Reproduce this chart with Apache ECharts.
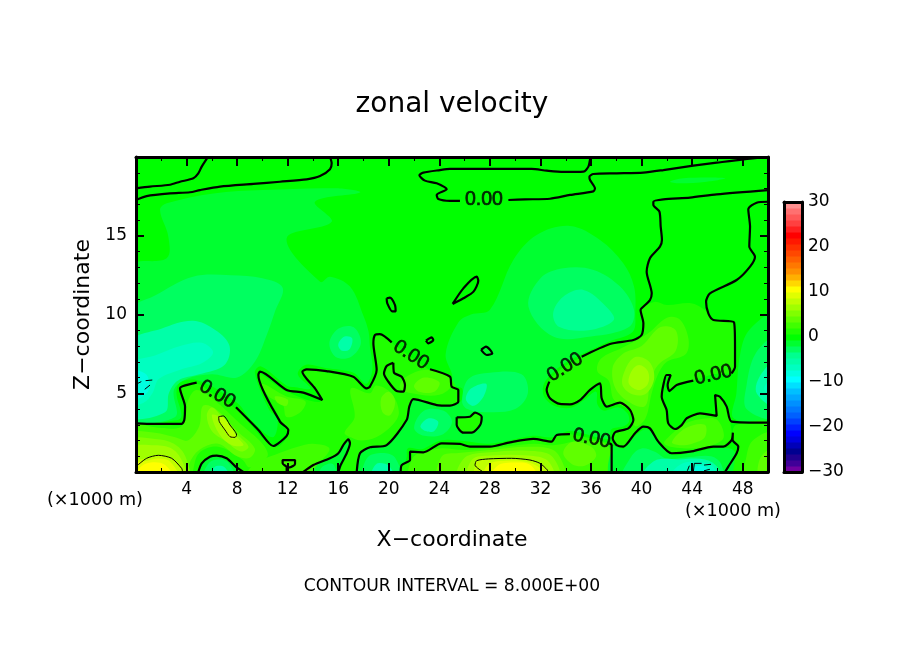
<!DOCTYPE html>
<html>
<head>
<meta charset="utf-8">
<style>html,body{margin:0;padding:0;background:#fff}#c{width:904px;height:654px}</style>
<script src="https://cdn.jsdelivr.net/npm/echarts@6/dist/echarts.min.js"></script>
</head>
<body>
<div id="c"></div>
<script>
// colour scale: 45 bands from -30 to +30 (bottom to top)
const barColors = ['#7000a0','#400098','#200090','#000090','#0000b8','#0000e0','#0000ff','#0020ff','#0040ff','#0060ff','#0078ff','#0090ff','#00a8ff','#00c0ff','#00e0ff','#00ffff','#00ffe0','#00ffc0','#00ffa8','#00ff90','#00ff60','#00ff30','#00ff00','#20ff00','#40ff00','#60ff00','#80ff00','#a0ff00','#c0ff00','#e0ff00','#ffff00','#ffd800','#ffb000','#ff9000','#ff7800','#ff6000','#ff4800','#ff3000','#ff1800','#ff0000','#ff2020','#ff4040','#ff5858','#ff7070','#ff9090'];
const barMin = -30, barMax = 30;

// filled velocity regions (m/s level, outline in km)
const fillLevels = [0, -1.5, -1.5, -1.5, -1.5, -1.5, -1.5,
  1.5, 1.5, 1.5, 1.5, 1.5,
  2.7, 4, 5.3, 5.3, 6.7, 6.7, 8, 8, 9.3, 10.7,
  2.7, 2.7, 4, 2.7, 4, 2.7, 4,
  2.7, 4, 4, 5.3, 6.7, 8, 9.3, 10.7,
  2.7, 4, 5.3, 6.7, 2.7, 4, 2.7, 4,
  -3, -5, -7, -8.5,
  -3, -5, -3, -5, -3, -5, -3.5, -3, -4.5,
  -3, -5, -7, -8.5, -1.5, -3, -5, -7, -8.5, -3, -5, -3, -5, -3];
const fillShapes = [
  [[-1,-1],[51,-1],[51,21],[-1,21]],
  [[-.5,13],[2.43,13.57],[2.56,14.94],[1.9,16.63],[2.43,17.06],[6.12,17.69],[10.07,17.9],[15.88,18.01],[17.72,17.74],[14.16,17.16],[15.48,15.89],[11.92,14.84],[14.56,12.08],[15.35,12.4],[16.93,11.77],[18,9.9],[18.4,8.9],[18.5,8],[18.7,6.5],[18.2,5.6],[17.2,6.3],[15,6.6],[13.4,6.8],[12.8,6.2],[13.8,5.3],[12.5,5.4],[11.9,5.5],[9.9,6.7],[9.4,6.3],[10.5,4],[11.2,3.3],[10.8,2.2],[9,3.4],[8,4.4],[5,5.8],[3.5,5.7],[3.2,5],[3.6,3.6],[3.3,3.3],[-.5,3.3]],
  [[28,10.3],[29.85,13.46],[31.7,15.05],[34.33,15.62],[36.71,14.73],[38.55,13.25],[39.4,11.77],[39.5,10.1],[39.3,8.9],[37.5,8.3],[35.3,7.5],[33.7,6.8],[32.4,5.8],[32.2,5],[32.7,4.4],[33.5,4.1],[34.5,4.1],[35.5,4.6],[36.4,5.1],[36.5,4.3],[37,3.9],[38.2,4.1],[38.9,3.7],[39,3.2],[38.6,2.9],[37.6,2.7],[37.4,2.1],[34.3,2.6],[33,2.2],[31.4,2.3],[28,1.8],[25.6,2],[24.1,2],[22.6,1.45],[21.5,1.5],[21.4,.9],[20.7,-.5],[17.5,-.5],[17.4,1.1],[18.5,1.7],[19.7,1.9],[21.2,3.3],[21.4,4.2],[21.9,4.9],[23.8,4.5],[24.8,4.5],[25.7,4.5],[25.8,5.3],[25.1,5.5],[25,6.2],[24.5,7.5],[25.5,9.5],[26.5,10]],
  [[50.5,10],[48.5,9],[47.8,7.5],[47.5,5],[47.3,3.4],[50.5,3.3]],
  [[42.25,18.43],[43.3,18.65],[46.6,18.65],[45.15,18.43],[43,18.33]],
  [[4.9,-.5],[5.2,.5],[5.85,.95],[6.38,1],[7.17,.85],[7.9,.3],[8.5,-.5]],
  [[13.2,-.5],[14,.4],[15.3,.85],[16,1.15],[16.4,1.65],[16.8,2],[16.9,1.8],[16.6,1.15],[16.2,.4],[16,-.5]],
  [[-.5,3.1],[3.7,3],[4,4],[3.6,5.3],[4.8,5.6],[6,5],[7.9,4],[10.9,1.6],[12,2.3],[11.5,3.2],[9.7,6.2],[11.9,5.1],[14.6,4.5],[13.2,6.4],[15,6.3],[17.2,6],[18.2,5.2],[19,6.5],[18.8,8.2],[19.2,8.7],[20.2,8.2],[23.2,6.5],[24.8,6],[25.5,5],[25.5,4.4],[23.8,4.2],[22,4.6],[21.6,4.1],[21.4,3.3],[19.8,1.7],[18.5,1.55],[17.7,1.2],[17.4,-.5],[16,-.5],[16.7,1.2],[16.8,2],[16,1.2],[14,.4],[13.2,-.5],[8.5,-.5],[7.9,.34],[6.4,1],[5.2,.55],[4.9,-.5],[-.5,-.5]],
  [[20.9,-.5],[21,.44],[21.7,.76],[21.7,1.29],[22.7,1.25],[24.2,1.82],[25.6,1.78],[26.4,1.6],[28,1.6],[29.6,1.88],[31.4,2.1],[32.9,1.93],[33.3,2.35],[34.3,2.41],[37.45,1.82],[37.6,1.7],[37.6,-.5]],
  [[40,10.3],[40.1,9.4],[40,8.7],[39.3,8.4],[37.5,8.1],[35.3,7.3],[33.9,6.7],[32.7,5.8],[32.5,5.2],[32.75,4.7],[33.5,4.3],[34.3,4.3],[35.1,4.6],[35.9,5.2],[36.7,5.6],[36.8,4.7],[37.2,4.15],[38.3,4.4],[39.1,3.9],[39.35,3.3],[38.95,2.77],[37.9,2.5],[37.7,2.1],[38,1.7],[38.6,1.6],[39.5,2.5],[40.1,2.9],[40.7,2.8],[41.3,1.9],[42.4,1.2],[43.8,1.3],[45.7,1.6],[46.5,1.6],[47.1,2],[47,3.2],[46.7,4.15],[46.2,4.8],[45.8,4.9],[45.9,3.6],[44.6,3.7],[43.6,3.4],[43.2,3],[42.6,2.7],[42.1,3.1],[42,3.9],[41.6,4.8],[41.7,5.5],[42,6.2],[42.3,6.2],[42,5.5],[42.2,5.1],[42.8,5.5],[44.1,5.8],[45.7,6.2],[47.1,6.3],[47.4,6.7],[47.4,8],[47.3,9.5],[45.7,9.65],[45.3,10.1],[44,10.7],[42,10.6],[41,10.8]],
  [[46.7,-.5],[47.5,1.2],[47.65,1.6],[47.2,2.2],[47.5,3],[50.5,3],[50.5,-.5]],
  [[25.37,3.47],[26.42,3.51],[26.82,3.77],[27.35,3.51],[27.22,2.98],[26.56,2.5],[25.9,2.5],[25.37,2.98]],
  [[-.5,2.9],[2,2.8],[3.6,2.9],[4.1,4.5],[4.8,5.2],[6.3,4.5],[8.2,3.1],[10,1.8],[10.4,1],[9,.3],[8.4,.8],[6.5,1.6],[5,1.2],[4.5,0],[4.5,-.5],[-.5,-.5]],
  [[-.5,2.4],[1.5,2.5],[3.1,2.2],[4.1,2],[5,2.9],[5.3,4.2],[6.3,4],[8,2.6],[9.4,1.5],[9,.9],[8,1],[6.5,1.8],[5,1.4],[4.2,.5],[4,-.5],[-.5,-.5]],
  [[-.5,2],[1.5,2.1],[3,1.8],[3.9,1],[4.1,-.5],[-.5,-.5]],
  [[5.6,3.6],[6,4.1],[6.7,3.6],[8,2.4],[8.9,1.6],[8.3,1.3],[7,2],[6,2.6]],
  [[-.5,1.5],[1.5,1.7],[2.9,1.45],[3.7,.6],[3.9,-.5],[-.5,-.5]],
  [[6,3.6],[6.6,3.5],[8,2.2],[8.5,1.7],[7.6,1.7],[6.6,2.4]],
  [[-.5,.6],[.84,.87],[1.77,1.06],[2.82,.87],[3.6,.23],[3.7,-.5],[-.5,-.5]],
  [[6.5,3.5],[6.9,3.5],[7.9,2.3],[7.6,2.1],[7.1,2.5]],
  [[-.5,.45],[.9,.72],[1.8,.85],[2.7,.65],[3.4,-.5],[-.5,-.5]],
  [[0,-.5],[.4,.35],[1.3,.62],[2.3,.45],[3,-.5]],
  [[8.7,-.5],[9.3,.5],[11,1.1],[12.8,1.6],[14,1.8],[15.3,1.5],[14.5,.6],[13,-.5]],
  [[10,5.6],[11.9,4.8],[13.4,4.5],[13,3.8],[11.9,3.5],[11.6,4.3],[10.5,4.8]],
  [[11,4.8],[12,4.6],[11.9,4.2],[11.2,4.4]],
  [[16.5,2.5],[17.3,3.5],[17,5.3],[18.5,5],[19,5.5],[20.2,5],[20.8,3.8],[20.3,3],[19,2.2],[17.8,2],[17,2.2]],
  [[19.4,4.7],[20,5.1],[20.5,4.5],[20.1,3.6],[19.5,3.8]],
  [[20.9,5.3],[21.3,6],[23,6.5],[24.8,6],[24.9,5.4],[24,4.9],[22.5,4.9]],
  [[22,5.5],[22.8,6],[24,5.7],[23.6,5.1],[22.4,5.1]],
  [[21.8,-.5],[22,1],[24,1.5],[26,1.4],[29,1.6],[31.5,1.8],[33,1.7],[35.5,2],[37.4,1.6],[37.4,-.5]],
  [[24,-.5],[24.2,1],[25.5,1.2],[28,1.4],[31,1.6],[33,1.4],[33.8,.5],[34,-.5]],
  [[33.8,1.2],[34.5,1.9],[36,1.6],[36.4,1],[35.5,.4],[34.5,.5]],
  [[25.5,-.5],[26,.9],[28,1.25],[31,1.35],[32.9,1],[33.4,-.5]],
  [[26.3,-.5],[26.6,.8],[28,1.05],[31,1.05],[32.6,.7],[33,-.5]],
  [[26.82,-.5],[26.82,.44],[26.95,.72],[27.88,.83],[29.72,.87],[31.17,.76],[31.96,.55],[32.54,.13],[32.57,-.5]],
  [[27.5,-.5],[27.9,.5],[29.5,.72],[31,.62],[32,.2],[32.2,-.5]],
  [[28,-.5],[28.6,.4],[30,.6],[31.2,.45],[31.8,-.5]],
  [[36.8,7.2],[38.5,7.9],[40.5,8.8],[42,9.8],[43,9.7],[43.7,8.5],[43.5,7.5],[42,7],[41.3,6.2],[40.8,5],[40.3,3.4],[39.5,2.9],[39,3.9],[37.8,4.6],[37.4,5.8],[36.5,6.4]],
  [[37.7,6.6],[38.5,7.5],[40,8],[41.5,9.2],[42.7,9],[42.7,7.7],[41.3,6.8],[40.7,5.8],[40.3,4.2],[39.3,4.3],[38,5.2]],
  [[38.5,5.5],[38.7,6.5],[39.5,7.3],[40.6,7],[41,6],[40.4,5],[39.4,4.9]],
  [[39,5.6],[39.2,6.4],[39.8,6.8],[40.5,6.4],[40.5,5.6],[39.8,5.2]],
  [[41.8,1.8],[42.5,2.5],[43.5,3.1],[45,3.4],[46,3.3],[46.5,2.2],[45.6,1.7],[43.5,1.5]],
  [[42.4,1.9],[43.5,2.8],[45,3],[45,2.2],[44,1.8],[43,1.7]],
  [[48.2,-.5],[48.3,1],[48.8,2],[50.5,2.5],[50.5,-.5]],
  [[49.3,-.5],[49.4,.9],[50.5,1.5],[50.5,-.5]],
  [[-.5,10.2],[1.5,11.2],[4.5,12.4],[7.5,12.5],[10,12.3],[11.6,11.7],[11,10.2],[10.3,8.6],[9.4,7],[8,6],[6,6.2],[4,5.9],[3,5.2],[3.1,3.5],[-.5,3.5]],
  [[-.5,8.2],[2,9.1],[4.5,9.6],[6.3,9],[7.4,8],[7,6.8],[5,6.2],[3.3,5.8],[2.6,5],[2.3,3.8],[-.5,3.6]],
  [[-.5,6.8],[1.5,7.4],[3.5,8],[5.2,8.2],[6.1,7.6],[5.2,6.9],[3.5,6.5],[1.8,5.9],[1.3,5],[.6,4.4],[-.5,4.3]],
  [[-.5,6.4],[.8,6.2],[1,5.2],[.3,4.7],[-.5,4.6]],
  [[25.8,4.5],[26.3,5.9],[28,6.3],[30.5,6.2],[31,5],[30,4],[27.6,3.8],[26.2,4]],
  [[26.1,4.6],[26.5,5.3],[27.7,5.6],[27.5,4.8],[26.7,4.2]],
  [[22,2.8],[22.8,3.9],[24.3,3.9],[25,3.2],[24.3,2.4],[22.8,2.3]],
  [[22.5,2.9],[23.1,3.4],[23.9,3.2],[23.6,2.6],[22.9,2.6]],
  [[15.3,8.2],[16,9.1],[17.2,9.2],[17.8,8.2],[17,7.3],[15.8,7.3]],
  [[16,8.1],[16.5,8.6],[17.1,8.5],[16.9,7.8],[16.3,7.7]],
  [[34.8,9.3],[35.6,10],[36.9,10.1],[37.3,9.7],[36.5,9],[35.3,8.9]],
  [[31.05,10.5],[32,12.3],[33.8,12.93],[36.2,12.83],[38.3,11.77],[39.4,10.29],[39,9.2],[36,8.6],[33,8.6]],
  [[33,10.07],[33.8,11.13],[35.4,11.56],[37.2,10.5],[37.8,9.65],[35.8,9],[33.5,9.2]],
  [[50.5,8.5],[49,7.5],[48.3,5.5],[48.3,4],[50.5,3.5]],
  [[50.5,7],[49.3,6],[49.1,5],[50.5,4.2]],
  [[50.5,6],[49.7,5.3],[50.5,4.7]],
  [[50.5,5.6],[50,5.3],[50.5,5]],
  [[37.7,-.5],[37.7,1.6],[38.6,1.5],[39.5,2.3],[40.2,2.7],[40.7,2.6],[41.4,1.8],[42.4,1.1],[43.8,1.2],[45.7,1.5],[47,1.5],[47.4,1.2],[46.7,-.5]],
  [[38.5,-.5],[39.2,1],[40,1.5],[41,1.3],[42,.85],[43.8,.95],[45.5,1],[46.3,.5],[46.3,-.5]],
  [[40,-.5],[41,.7],[43,.8],[45,.8],[46,.3],[46,-.5]],
  [[42.2,-.5],[43,.45],[44.5,.65],[45.7,.3],[45.8,-.5]],
  [[43.8,-.5],[44,.25],[45,.35],[45.5,-.5]],
  [[18,-.5],[18.3,.9],[19.5,1.2],[20.5,.9],[20.9,-.5]],
  [[18.6,-.5],[19,.5],[20,.4],[20.4,-.5]],
  [[5.3,-.5],[5.8,.6],[6.5,.8],[7.3,.6],[7.8,-.5]],
  [[5.9,-.5],[6.2,.3],[7,.3],[7.4,-.5]],
  [[14.5,-.5],[14.7,.3],[15.6,.5],[15.8,-.5]]
];

// zero contours, bold (km, km)
const contourBold = [
  [[0,18.01],[1.11,18.12],[2.69,18.24],[3.48,18.43],[4.54,18.65],[4.93,18.96],[5.2,19.39],[5.64,19.94],[5.7,20]],
  [[0,17.27],[.84,17.52],[2.69,17.69],[4.27,17.76],[5.06,17.9],[6.65,18.12],[9.28,18.29],[11.39,18.43],[13.5,18.58],[14.56,18.79],[15.35,19.22],[15.48,19.6],[15.35,20]],
  [[35.95,20],[35.79,19.39],[35.4,19.07],[33.81,19.05],[32.49,19.13],[31.3,19.24],[24.84,19.24],[24.05,19.17],[22.73,19.01],[22.42,18.84],[22.86,18.5],[23.79,18.33],[24.58,17.95],[23.79,17.59],[23.92,17.33],[24.84,17.21],[25.63,17.21]],
  [[29.46,17.27],[30.78,17.31],[32.75,17.35],[34.33,17.59],[36.18,17.82],[36.31,18.01],[35.92,18.54],[35.87,18.75],[36.18,18.92],[38.03,18.96],[40.14,19.01],[41.72,19.17],[44.09,19.45],[45.94,19.64],[48.05,19.85],[50,20]],
  [[50,17.9],[45.94,17.63],[43.83,17.42],[41.72,17.31],[40.93,17.16],[40.93,16.95],[41.41,16.53],[41.51,15.58],[41.61,14.73],[41.45,14.31],[40.66,13.57],[40.4,12.72],[40.8,11.34],[40.66,10.92],[40,10.39],[39.92,10.29],[40.14,9.44],[40,8.7],[39.35,8.38],[37.5,8.13],[35.26,7.32]],
  [[32.7,5.74],[32.49,5.21],[32.75,4.68],[33.54,4.32],[34.33,4.3],[35.13,4.57],[35.92,5.21],[36.71,5.63],[36.84,4.68],[37.24,4.15],[38.29,4.4],[39.08,3.94],[39.35,3.3],[38.95,2.77],[37.9,2.52],[37.71,2.14],[38.03,1.71],[38.56,1.61],[39.48,2.46],[40.14,2.88],[40.66,2.77],[41.32,1.93],[42.38,1.19],[43.83,1.29],[45.68,1.61],[46.47,1.61],[47.12,2.03],[47.22,2.5],[47.2,2.03],[47.65,1.61],[47.52,1.19],[46.86,.34],[46.6,0]],
  [[50,17.16],[49.1,17.1],[48.44,16.68],[48.58,15.58],[48.52,14.31],[48.97,13.67],[48.58,13.04],[47.52,12.19],[45.41,11.34],[45.1,10.81],[45.28,10.07],[45.68,9.65],[47.31,9.5],[47.39,7.96],[47.39,6.69],[47.12,6.26]],
  [[44.09,5.8],[42.77,5.52],[42.19,5.14],[42.06,5.52],[42.3,6.16],[41.97,6.16],[41.72,5.52],[41.59,4.78],[41.98,3.94],[42.11,3.09],[42.64,2.73],[43.17,2.98],[43.57,3.41],[44.62,3.72],[45.94,3.56],[45.81,4.89],[46.2,4.78],[46.73,4.15],[47.12,3.2],[50,3.13]],
  [[0,3.09],[1.37,3.05],[3.61,3.05],[3.82,3.3],[3.88,4.15],[3.48,5.31],[3.74,5.46],[4.8,5.67]],
  [[7.91,4.11],[9.68,2.67],[10.86,1.65],[11.26,1.82],[11.92,2.29],[12.05,2.67],[11.39,3.2],[9.68,6.16],[9.81,6.37],[11.92,5.21],[13.24,5.04],[14.74,4.57],[14.16,5.31],[13.16,6.37],[13.5,6.52],[15.08,6.41],[17.19,6.05],[18.25,5.31],[18.51,5.42],[19.04,6.48],[18.78,8.17],[18.91,8.7],[19.3,8.76],[20.23,8.23]],
  [[23.26,6.52],[24.84,6.05],[24.97,5.42],[25.5,5.21],[25.5,4.47],[24.84,4.21],[23.79,4.25],[21.94,4.63],[21.62,4.15],[21.41,3.3],[19.83,1.71],[18.51,1.57],[17.72,1.19],[17.46,0]],
  [[25.37,3.47],[26.42,3.51],[26.82,3.77],[27.35,3.51],[27.22,2.98],[26.56,2.5],[25.9,2.5],[25.37,2.98],[25.37,3.47]],
  [[20.94,0],[21.02,.44],[21.68,.76],[21.68,1.29],[22.73,1.25],[24.18,1.82],[25.63,1.78],[26.42,1.61],[28,1.61],[29.59,1.88],[31.43,2.1],[32.88,1.93],[33.28,2.35],[34.33,2.41]],
  [[37.45,1.82],[37.63,1.71],[37.63,0]],
  [[4.93,0],[5.2,.55],[5.85,.97],[6.38,1.04],[7.17,.87],[7.88,.34],[8.49,0]],
  [[11.92,0],[11.92,.3],[11.6,.55],[11.6,.76],[12.58,.76],[12.58,.51],[12.18,.3],[11.92,.3]],
  [[13.24,0],[14.03,.44],[15.35,.87],[16.01,1.19],[16.4,1.71],[16.8,2.07],[16.93,1.82],[16.67,1.19],[16.19,.44],[16.01,0]],
  [[19.83,11.03],[20.09,11.07],[20.49,10.6],[20.54,10.2],[20.28,10.2],[19.88,10.71],[19.83,11.03]],
  [[25.05,10.67],[25.9,11.66],[26.95,12.4],[27.08,12.15],[26.7,11.45],[25.9,11.03],[25.05,10.67]],
  [[22.94,8.34],[23.39,8.55],[23.52,8.38],[23.13,8.17],[22.94,8.34]],
  [[20.36,6.94],[20.41,6.31],[21.02,6.05],[21.28,5.52],[21.15,5.1],[20.62,5.14],[19.96,5.74],[19.62,6.26],[19.83,6.73],[20.36,6.94]],
  [[27.3,7.75],[27.69,7.96],[28.19,7.53],[27.74,7.43],[27.3,7.75]]
];

// +8 contours, thin
const contourThin = [
  [[6.54,3.51],[6.91,3.56],[7.44,2.98],[7.96,2.35],[7.83,2.2],[7.44,2.24],[7.04,2.67],[6.59,3.2],[6.54,3.51]],
  [[0,.34],[.84,.87],[1.77,1.06],[2.82,.87],[3.61,.23],[3.69,0]],
  [[27.48,0],[26.82,.44],[26.95,.72],[27.88,.83],[29.72,.87],[31.17,.76],[31.96,.55],[32.54,.13],[32.57,0]]
];

// -8 contours, broken pieces
const contourDashed = [
  [[.05,5.59],[.42,5.74]],
  [[.76,5.8],[1.29,5.84]],
  [[.69,5.25],[1.11,5.52]],
  [[43.62,.08],[43.78,.4]],
  [[44.09,0],[44.17,.55],[44.75,.55]],
  [[44.94,.44],[45.49,.49]],
  [[44.94,.08],[45.4,.17]]
];

// in-line contour labels: x km, z km, rotation degrees
const contourLabels = [[27.53,17.27,0],[6.43,4.93,-30],[21.76,7.43,-33],[33.94,6.65,32],[36.05,2.12,-12],[45.68,6.16,13]];
const contourLabelText = '0.00';

const xTicksStep = 4, zTicksStep = 5;
const FONT = 'DejaVu Sans';

const bandSize = (barMax - barMin) / barColors.length;
const colorOf = v => barColors[Math.max(0, Math.min(barColors.length - 1, Math.floor((v - barMin) / bandSize)))];

function lineSeries(paths, width, smooth) {
  return paths.map(p => ({
    type: 'line', xAxisIndex: 0, yAxisIndex: 0, data: p, showSymbol: false, symbol: 'none', silent: true, z: 4,
    clip: true, animation: false, smooth: smooth, lineStyle: { color: '#000', width: width }
  }));
}

const option = {
  animation: false,
  backgroundColor: '#fff',
  textStyle: { fontFamily: FONT, color: '#000' },
  title: { text: 'zonal velocity', left: 'center', top: 86, textStyle: { fontFamily: FONT, fontSize: 28, fontWeight: 'normal', color: '#000' } },
  grid: [
    { left: 136, top: 157, width: 632, height: 315, show: false },
    { left: 784, top: 202, width: 18, height: 270, show: false }
  ],
  xAxis: [
    { gridIndex: 0, type: 'value', min: 0, max: 50, interval: xTicksStep, position: 'bottom', z: 10,
      axisLine: { show: true, onZero: false, lineStyle: { color: '#000', width: 3 } },
      axisTick: { show: true, inside: true, length: 9, lineStyle: { color: '#000', width: 2 } },
      minorTick: { show: true, splitNumber: 2, length: 4, lineStyle: { color: '#000', width: 1 } },
      splitLine: { show: false }, minorSplitLine: { show: false },
      axisLabel: { margin: 9, fontSize: 17, color: '#000', fontFamily: FONT, formatter: v => (v > 0 && v < 50) ? String(v) : '' },
      name: 'X\u2212coordinate', nameLocation: 'middle', nameGap: 57, nameTextStyle: { fontFamily: FONT, fontSize: 22, color: '#000' } },
    { gridIndex: 0, type: 'value', min: 0, max: 50, interval: xTicksStep, position: 'top', z: 10,
      axisLine: { show: true, onZero: false, lineStyle: { color: '#000', width: 3 } },
      axisTick: { show: true, inside: true, length: 9, lineStyle: { color: '#000', width: 2 } },
      minorTick: { show: true, splitNumber: 2, length: 4, lineStyle: { color: '#000', width: 1 } },
      splitLine: { show: false }, axisLabel: { show: false } },
    { gridIndex: 1, type: 'value', min: 0, max: 1, position: 'bottom', z: 10, axisLine: { show: true, onZero: false, lineStyle: { color: '#000', width: 3 } }, axisTick: { show: false }, splitLine: { show: false }, axisLabel: { show: false } },
    { gridIndex: 1, type: 'value', min: 0, max: 1, position: 'top', z: 10, axisLine: { show: true, onZero: false, lineStyle: { color: '#000', width: 3 } }, axisTick: { show: false }, splitLine: { show: false }, axisLabel: { show: false } }
  ],
  yAxis: [
    { gridIndex: 0, type: 'value', min: 0, max: 20, interval: zTicksStep, position: 'left', z: 10,
      axisLine: { show: true, onZero: false, lineStyle: { color: '#000', width: 3 } },
      axisTick: { show: true, inside: true, length: 8, lineStyle: { color: '#000', width: 2 } },
      minorTick: { show: true, splitNumber: 5, length: 4, lineStyle: { color: '#000', width: 1 } },
      splitLine: { show: false },
      axisLabel: { margin: 9, fontSize: 17, color: '#000', fontFamily: FONT, formatter: v => (v > 0 && v < 20) ? String(v) : '' },
      name: 'Z\u2212coordinate', nameLocation: 'middle', nameGap: 42, nameTextStyle: { fontFamily: FONT, fontSize: 22, color: '#000' } },
    { gridIndex: 0, type: 'value', min: 0, max: 20, interval: zTicksStep, position: 'right', z: 10,
      axisLine: { show: true, onZero: false, lineStyle: { color: '#000', width: 3 } },
      axisTick: { show: true, inside: true, length: 8, lineStyle: { color: '#000', width: 2 } },
      minorTick: { show: true, splitNumber: 5, length: 4, lineStyle: { color: '#000', width: 1 } },
      splitLine: { show: false }, axisLabel: { show: false } },
    { gridIndex: 1, type: 'value', min: barMin, max: barMax, interval: 10, position: 'right', z: 10,
      axisLine: { show: true, onZero: false, lineStyle: { color: '#000', width: 3 } }, axisTick: { show: false }, splitLine: { show: false },
      axisLabel: { margin: 6, fontSize: 17, color: '#000', fontFamily: FONT, formatter: v => String(v).replace('-', '\u2212') } },
    { gridIndex: 1, type: 'value', min: barMin, max: barMax, position: 'left', z: 10,
      axisLine: { show: true, onZero: false, lineStyle: { color: '#000', width: 3 } }, axisTick: { show: false }, splitLine: { show: false }, axisLabel: { show: false } }
  ],
  graphic: [
    { type: 'text', x: 47, y: 491, z: 20, style: { text: '(\u00d71000 m)', font: '17.6px "DejaVu Sans"', fill: '#000' } },
    { type: 'text', x: 685, y: 502, z: 20, style: { text: '(\u00d71000 m)', font: '17.6px "DejaVu Sans"', fill: '#000' } },
    { type: 'text', x: 452, y: 587, z: 20, style: { text: 'CONTOUR INTERVAL = 8.000E+00', font: '17.2px "DejaVu Sans"', fill: '#000', align: 'center', verticalAlign: 'middle' } }
  ],
  series: [
    { type: 'custom', xAxisIndex: 0, yAxisIndex: 0, clip: true, silent: true, z: 1,
      data: fillLevels.map((lv, i) => [i, lv]), encode: { x: 0, y: 1 },
      renderItem: (params, api) => {
        const i = api.value(0);
        return { type: 'polygon', shape: { points: fillShapes[i].map(p => api.coord(p)), smooth: i === 0 ? 0 : 0.35 }, style: { fill: colorOf(api.value(1)) } };
      } },
    { type: 'custom', xAxisIndex: 2, yAxisIndex: 2, clip: true, silent: true, z: 1,
      data: barColors.map((c, i) => [i, barMin + i * bandSize]), encode: { y: 1 },
      renderItem: (params, api) => {
        const lo = api.value(1);
        const a = api.coord([0, lo]), b = api.coord([1, lo + bandSize]);
        return { type: 'rect', shape: { x: a[0], y: b[1], width: b[0] - a[0], height: a[1] - b[1] + 0.5 }, style: { fill: barColors[api.value(0)] } };
      } },
    ...lineSeries(contourBold, 2.2, 0.25),
    ...lineSeries(contourThin, 1, 0.25),
    ...lineSeries(contourDashed, 1, false),
    { type: 'scatter', xAxisIndex: 0, yAxisIndex: 0, symbolSize: 0, silent: true, z: 5,
      data: contourLabels.map(l => ({ value: [l[0], l[1]],
        label: { show: true, position: 'inside', rotate: l[2], formatter: contourLabelText, fontFamily: 'Liberation Sans', fontSize: 19.5, color: '#000', textBorderColor: '#000', textBorderWidth: 0.7 } })) }
  ]
};
echarts.init(document.getElementById('c'), null, { renderer: 'canvas' }).setOption(option);
</script>
</body>
</html>
